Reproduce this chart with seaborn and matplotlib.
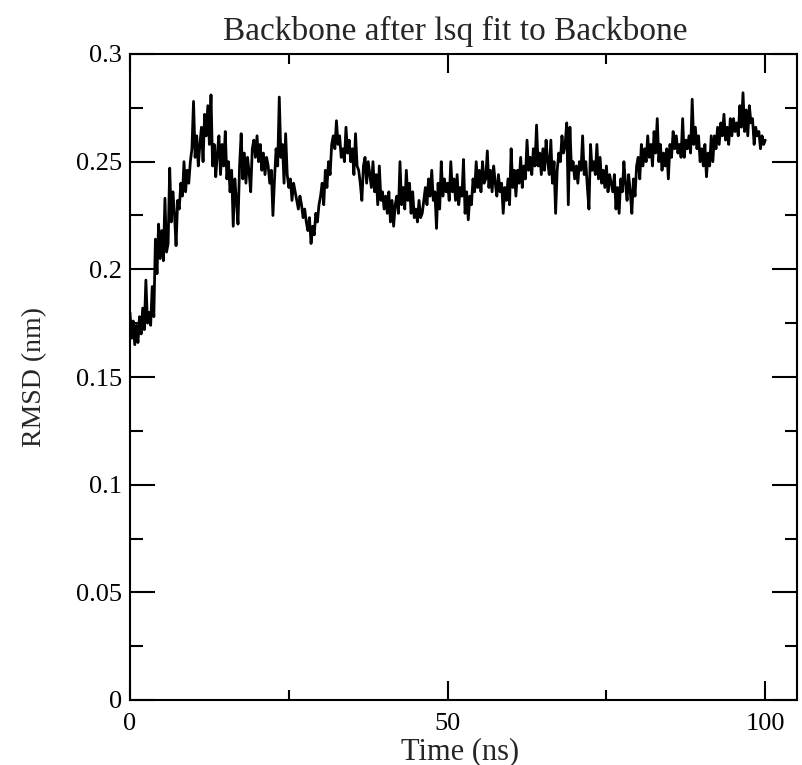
import numpy as np
import pandas as pd
import matplotlib
matplotlib.use("Agg")
import matplotlib.pyplot as plt
from matplotlib.ticker import FixedLocator, FixedFormatter
import seaborn as sns

# Backbone RMSD (nm), sampled every 0.25 ns over the 100 ns trajectory
sample_step_ns = 0.25

rmsd_00_25 = [
    .180, .168, .176, .165, .174, .166, .178, .170, .182, .172, .195, .175,
    .180, .174, .192, .178, .214, .198, .221, .205, .218, .204, .233, .208,
    .212, .247, .222, .236, .226, .211, .232, .228, .240, .234, .250, .236,
    .246, .240, .250, .256, .278, .252, .262, .248, .258, .266, .250, .272,
    .262, .276, .258, .281, .248, .258, .243, .254, .262, .244, .258, .248,
    .264, .242, .250, .236, .246, .220, .242, .232, .221, .248, .263, .242,
    .254, .240, .252, .245, .236, .256, .260, .252, .262, .250, .258, .246,
    .254, .244, .252, .248, .240, .246, .225, .242, .256, .248, .280, .252,
    .258, .240, .263, .244,
]
rmsd_25_50 = [
    .238, .242, .232, .240, .236, .232, .228, .234, .230, .224, .228, .222,
    .218, .224, .212, .220, .216, .226, .222, .230, .234, .240, .230, .246,
    .238, .250, .244, .258, .262, .256, .269, .258, .262, .252, .256, .250,
    .266, .254, .260, .250, .256, .244, .263, .248, .246, .240, .232, .248,
    .252, .240, .250, .244, .238, .250, .236, .244, .230, .248, .232, .236,
    .228, .234, .226, .236, .222, .232, .220, .230, .234, .226, .250, .230,
    .238, .228, .246, .232, .240, .226, .236, .224, .228, .222, .232, .224,
    .226, .232, .238, .230, .242, .234, .246, .232, .236, .219, .240, .228,
    .250, .234, .242, .236,
]
rmsd_50_75 = [
    .240, .232, .250, .236, .242, .232, .244, .230, .238, .234, .251, .226,
    .236, .223, .234, .230, .242, .236, .250, .238, .246, .236, .250, .240,
    .242, .255, .238, .246, .236, .248, .240, .234, .244, .236, .240, .226,
    .238, .232, .242, .230, .256, .238, .246, .234, .246, .240, .252, .238,
    .248, .242, .260, .246, .252, .244, .256, .248, .267, .248, .254, .244,
    .256, .246, .260, .250, .244, .260, .240, .250, .226, .246, .254, .250,
    .262, .254, .258, .268, .230, .266, .246, .250, .242, .248, .240, .250,
    .246, .262, .244, .250, .238, .228, .258, .246, .250, .244, .258, .242,
    .252, .240, .246, .238,
]
rmsd_75_100 = [
    .248, .236, .244, .240, .236, .244, .228, .238, .226, .242, .236, .250,
    .240, .232, .244, .236, .226, .242, .234, .248, .252, .242, .258, .248,
    .256, .250, .262, .252, .258, .248, .264, .254, .270, .250, .258, .246,
    .254, .248, .256, .242, .258, .252, .264, .256, .262, .254, .258, .252,
    .270, .252, .260, .256, .262, .254, .279, .258, .266, .256, .262, .250,
    .256, .248, .258, .243, .254, .248, .262, .250, .262, .256, .266, .258,
    .268, .262, .272, .260, .266, .258, .270, .262, .270, .264, .268, .262,
    .276, .266, .282, .264, .274, .262, .276, .268, .270, .258, .266, .262,
    .264, .256, .262, .258, .260,
]

x_ticks = [0, 50, 100]
x_minor = [25, 75]
y_ticks = [0, 0.05, 0.1, 0.15, 0.2, 0.25, 0.3]
y_tick_labels = ["0", "0.05", "0.1", "0.15", "0.2", "0.25", "0.3"]
y_minor = [0.025, 0.075, 0.125, 0.175, 0.225, 0.275]

rmsd = rmsd_00_25 + rmsd_25_50 + rmsd_50_75 + rmsd_75_100
df = pd.DataFrame({
    "Time (ns)": np.arange(len(rmsd)) * sample_step_ns,
    "RMSD (nm)": rmsd,
})

sns.set_style("white")
plt.rcParams["font.family"] = ["Liberation Serif", "DejaVu Serif"]

fig = plt.figure(figsize=(8.03, 7.65), dpi=100)
ax = fig.add_axes([130 / 803, 65 / 765, 667 / 803, 646 / 765])

sns.lineplot(data=df, x="Time (ns)", y="RMSD (nm)", color="black",
             linewidth=2.0, estimator=None, ax=ax)

ax.set_xlim(0, 105)
ax.set_ylim(0, 0.3)

ax.xaxis.set_major_locator(FixedLocator(x_ticks))
ax.xaxis.set_minor_locator(FixedLocator(x_minor))
ax.yaxis.set_major_locator(FixedLocator(y_ticks))
ax.yaxis.set_major_formatter(FixedFormatter(y_tick_labels))
ax.yaxis.set_minor_locator(FixedLocator(y_minor))

for side in ["left", "right", "top", "bottom"]:
    ax.spines[side].set_visible(True)
    ax.spines[side].set_color("black")
    ax.spines[side].set_linewidth(1.5)

ax.tick_params(axis="both", which="both", direction="in", colors="black",
               width=1.5, top=True, right=True, bottom=True, left=True,
               labelsize=19)
ax.tick_params(axis="x", which="major", length=13.5, pad=9)
ax.tick_params(axis="x", which="minor", length=7)
ax.tick_params(axis="y", which="major", length=18, pad=6)
ax.tick_params(axis="y", which="minor", length=9)

ax.set_xlabel("Time (ns)", fontsize=22)
ax.set_ylabel("RMSD (nm)", fontsize=20)
ax.xaxis.set_label_coords(0.495, -0.058)
ax.yaxis.set_label_coords(-0.125, 0.5)
ax.set_title("Backbone after lsq fit to Backbone", fontsize=24,
             x=0.488, pad=10)

fig.savefig("out.png", dpi=100, facecolor="white")
